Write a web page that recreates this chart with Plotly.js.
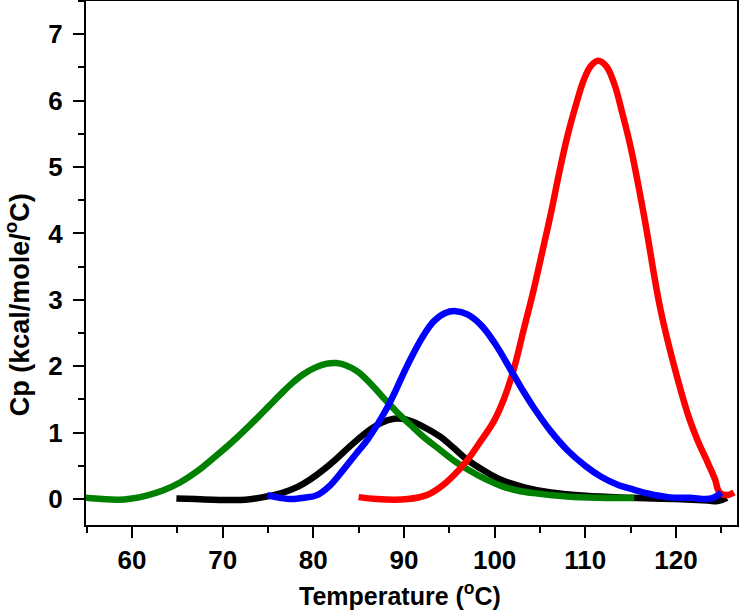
<!DOCTYPE html>
<html>
<head>
<meta charset="utf-8">
<script src="https://cdn.plot.ly/plotly-3.0.1.min.js"></script>
<style>html,body{margin:0;padding:0;background:#fff;}#chart{width:740px;height:610px;}</style>
</head>
<body>
<div id="chart"></div>
<script>
// Temperature (°C) and Cp (kcal/mole/°C)
const blackX = [64.9, 67, 70.8, 72.5, 74.5, 76.5, 78.2, 79.7, 81.1, 82.5, 84, 86, 87.5, 88.9, 90.2, 92, 94, 95.5, 97, 98.8, 100.7, 103.5, 106.2, 110, 115, 120, 123.5, 124.6, 125.6];
const blackY = [0.01, 0.0, -0.015, -0.01, 0.03, 0.09, 0.18, 0.3, 0.44, 0.6, 0.79, 1.02, 1.15, 1.21, 1.2, 1.1, 0.94, 0.77, 0.59, 0.43, 0.29, 0.17, 0.1, 0.05, 0.02, 0.0, -0.02, -0.03, 0.02];

const greenX = [54.9, 56.7, 58.5, 60, 61.5, 63.4, 65.3, 67.2, 69, 70.8, 72.3, 73.8, 75.1, 76.4, 77.7, 78.9, 80.2, 81.5, 82.5, 83.5, 84.9, 86.3, 87.7, 89.3, 90.7, 92.3, 94.0, 95.5, 97.0, 99, 100.7, 102.5, 104.3, 108, 111.5, 115.4];
const greenY = [0.02, 0.0, -0.01, 0.01, 0.05, 0.13, 0.25, 0.42, 0.62, 0.83, 1.02, 1.22, 1.4, 1.58, 1.75, 1.88, 1.98, 2.04, 2.05, 2.02, 1.92, 1.74, 1.53, 1.3, 1.12, 0.92, 0.74, 0.58, 0.45, 0.3, 0.2, 0.13, 0.09, 0.04, 0.02, 0.015];

const redX = [85, 87, 90.4, 92.5, 94, 95.5, 97, 98.5, 99.9, 101, 102.1, 103.2, 104.3, 105.3, 106.2, 107.1, 108, 109, 109.8, 110.6, 111.4, 112.3, 113.2, 114.1, 115, 116.5, 118.3, 120.2, 121.5, 122.4, 123.5, 124.3, 124.8, 125.6, 126.4];
const redY = [0.03, 0.0, 0.0, 0.06, 0.18, 0.36, 0.59, 0.88, 1.17, 1.5, 1.95, 2.55, 3.15, 3.75, 4.3, 4.9, 5.45, 5.95, 6.3, 6.52, 6.6, 6.52, 6.25, 5.8, 5.3, 4.25, 2.85, 1.8, 1.2, 0.88, 0.55, 0.3, 0.1, 0.06, 0.1];

const blueX = [74.9, 76.3, 77.5, 79, 80.4, 81.8, 83.3, 84.7, 86, 88.2, 90.4, 92, 93.3, 94.5, 95.7, 97, 98.5, 100, 101.8, 103, 104.3, 106.2, 108, 110, 111.7, 113.5, 115.4, 117, 119.1, 121.5, 123.9, 125];
const blueY = [0.06, 0.02, 0.0, 0.02, 0.06, 0.2, 0.44, 0.68, 0.9, 1.39, 2.02, 2.43, 2.68, 2.8, 2.83, 2.78, 2.62, 2.35, 1.94, 1.66, 1.38, 1.02, 0.74, 0.5, 0.34, 0.22, 0.14, 0.08, 0.03, 0.02, 0.01, 0.1];

const xTitle = 'Temperature (<sup>o</sup>C)';
const yTitle = 'Cp (kcal/mole/<sup>o</sup>C)';

const FONT = 'Liberation Sans, Arial, Helvetica, sans-serif';
function tr(x, y, color) {
  return {x: x, y: y, type: 'scatter', mode: 'lines',
    line: {color: color, width: 6.5, shape: 'spline', smoothing: 1.1},
    hoverinfo: 'skip', showlegend: false};
}
const data = [
  tr(blackX, blackY, '#000000'),
  tr(greenX, greenY, '#008000'),
  tr(redX, redY, '#ff0000'),
  tr(blueX, blueY, '#0000ff')
];
const axisCommon = {
  showgrid: false, zeroline: false, showline: true, linecolor: '#000', linewidth: 2,
  mirror: true, ticks: 'outside', ticklen: 11, tickwidth: 2, tickcolor: '#000',
  tickfont: {family: FONT, size: 26, color: '#000', weight: 700}
};
const layout = {
  width: 740, height: 610,
  margin: {l: 86, r: 3, t: 1, b: 85},
  paper_bgcolor: '#fff', plot_bgcolor: '#fff',
  font: {family: FONT, color: '#000'},
  xaxis: Object.assign({}, axisCommon, {
    range: [54.93, 126.73], tick0: 60, dtick: 10,
    minor: {tick0: 55, dtick: 5, ticks: 'outside', ticklen: 6, tickwidth: 2, tickcolor: '#000'}
  }),
  yaxis: Object.assign({}, axisCommon, {
    range: [-0.39, 7.5], tick0: 0, dtick: 1,
    minor: {tick0: 0, dtick: 0.5, ticks: 'outside', ticklen: 6, tickwidth: 2, tickcolor: '#000'},
    ticklabelstandoff: 5
  }),
  annotations: [{
    text: yTitle, textangle: -90, showarrow: false,
    xref: 'paper', yref: 'paper', x: -0.1055, y: 0.42, xanchor: 'center', yanchor: 'middle',
    font: {family: FONT, size: 27, weight: 700, color: '#000'}
  }, {
    text: xTitle, showarrow: false,
    xref: 'paper', yref: 'paper', x: 0.482, y: -0.1317, xanchor: 'center', yanchor: 'middle',
    font: {family: FONT, size: 25, weight: 700, color: '#000'}
  }]
};
Plotly.newPlot('chart', data, layout, {staticPlot: true, displayModeBar: false});
</script>
</body>
</html>
